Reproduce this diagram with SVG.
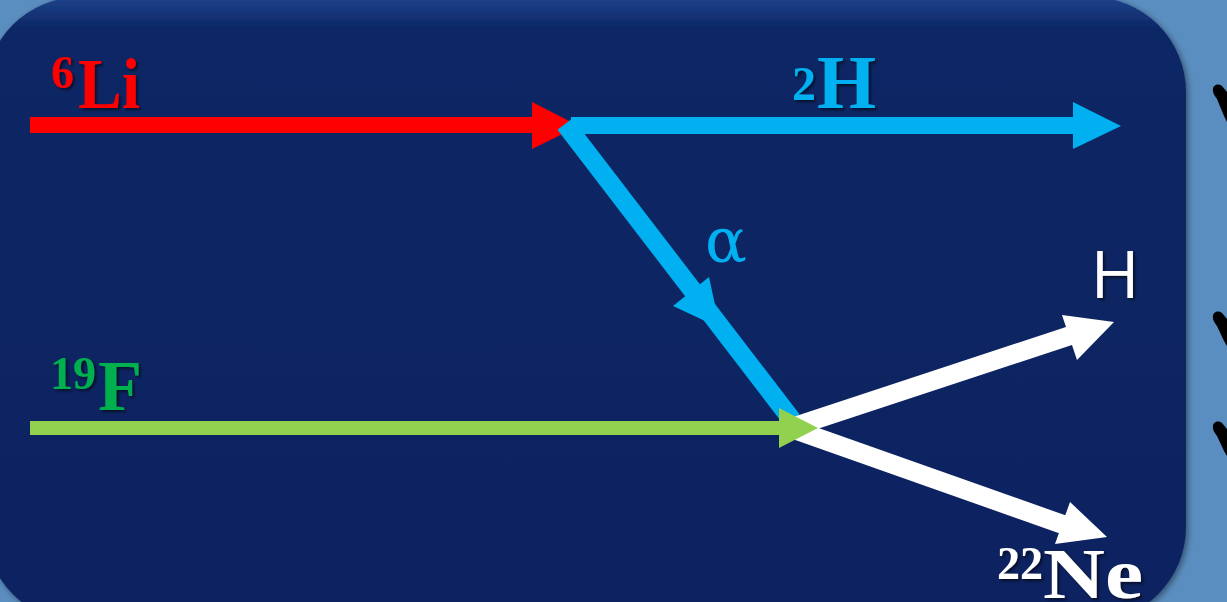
<svg xmlns="http://www.w3.org/2000/svg" width="1227" height="602" viewBox="0 0 1227 602">
  <defs>
    <linearGradient id="panelGrad" x1="0" y1="0" x2="0" y2="1">
      <stop offset="0" stop-color="#1f438c"/>
      <stop offset="0.05" stop-color="#0c2765"/>
      <stop offset="1" stop-color="#0a2360"/>
    </linearGradient>
    <filter id="panelShadow" x="-5%" y="-5%" width="110%" height="110%">
      <feDropShadow dx="2" dy="2" stdDeviation="3" flood-color="#000" flood-opacity="0.45"/>
    </filter>
    <filter id="txtShadow" x="-10%" y="-10%" width="130%" height="130%">
      <feDropShadow dx="2" dy="2" stdDeviation="1.5" flood-color="#000" flood-opacity="0.6"/>
    </filter>
  </defs>
  <style>
    .lbl { font-family: "Liberation Serif", "Times New Roman", serif; font-weight: bold; }
    .sans { font-family: "Open Sans", "Liberation Sans", Arial, sans-serif; }
  </style>

  <rect x="0" y="0" width="1227" height="602" fill="#5b8ec0"/>
  <g id="panel">
    <rect x="-15" y="-3" width="1201" height="625" rx="95" ry="95" fill="url(#panelGrad)" filter="url(#panelShadow)"/>
  </g>

  <g id="marks" fill="#000">
    <path d="M1213,91 C1212,85 1218,83 1222,86 L1227,92 L1227,122 L1224,116 L1217,99 C1215,96 1213,94 1213,91 Z"/>
    <path d="M1213,318 C1212,312 1218,310 1222,313 L1227,319 L1227,346 L1224,341 L1217,326 C1215,323 1213,321 1213,318 Z"/>
    <path d="M1213,428 C1212,422 1218,420 1222,423 L1227,429 L1227,456 L1224,451 L1217,436 C1215,433 1213,431 1213,428 Z"/>
  </g>

  <g id="connectors">
    <g id="li-beam">
      <rect x="30" y="117" width="506" height="16" fill="#ff0000"/>
      <polygon points="532,102 579,126 532,149" fill="#ff0000"/>
    </g>
    <g id="h2-beam">
      <rect x="571" y="117" width="506" height="17" fill="#00b0f0"/>
      <polygon points="1073,102 1121,126 1073,149" fill="#00b0f0"/>
    </g>
    <g id="alpha-beam">
      <line x1="565" y1="124" x2="792" y2="420" stroke="#00b0f0" stroke-width="19"/>
      <polygon points="673,306 709,277 720,328" fill="#00b0f0"/>
    </g>
    <g id="products" fill="#ffffff">
      <line x1="790" y1="428" x2="1075" y2="334" stroke="#ffffff" stroke-width="19"/>
      <polygon points="1062,315 1114,322 1077,360"/>
      <line x1="790" y1="428" x2="1070" y2="527" stroke="#ffffff" stroke-width="19"/>
      <polygon points="1070,502 1107,537 1055,544"/>
    </g>
    <g id="f-beam">
      <rect x="30" y="421" width="752" height="14" fill="#92d050"/>
      <polygon points="779,408 818,428 779,448" fill="#92d050"/>
    </g>
  </g>

  <g id="label-li" filter="url(#txtShadow)">
    <text class="lbl" x="51" y="88" font-size="46" fill="#ff0000">6</text>
    <text class="lbl" x="78" y="108" font-size="72" fill="#ff0000" textLength="62" lengthAdjust="spacingAndGlyphs">Li</text>
  </g>
  <g id="label-h2" filter="url(#txtShadow)">
    <text class="lbl" x="792" y="100" font-size="48" fill="#00b0f0">2</text>
    <text class="lbl" x="817" y="108" font-size="76" fill="#00b0f0">H</text>
  </g>
  <g id="label-alpha">
    <text x="726" y="262" font-size="62" fill="#00b0f0" text-anchor="middle" font-family="'DejaVu Serif', 'Liberation Serif', serif">α</text>
  </g>
  <g id="label-h" filter="url(#txtShadow)">
    <text class="sans" x="1115" y="298" font-size="66" fill="#ffffff" text-anchor="middle">H</text>
  </g>
  <g id="label-f" filter="url(#txtShadow)">
    <text class="lbl" x="50" y="389" font-size="46" fill="#00b050">19</text>
    <text class="lbl" x="98" y="410" font-size="72" fill="#00b050">F</text>
  </g>
  <g id="label-ne" filter="url(#txtShadow)">
    <text class="lbl" x="997" y="579" font-size="46" fill="#ffffff">22</text>
    <text class="lbl" x="1043" y="598" font-size="72" fill="#ffffff" textLength="100" lengthAdjust="spacingAndGlyphs">Ne</text>
  </g>
</svg>
